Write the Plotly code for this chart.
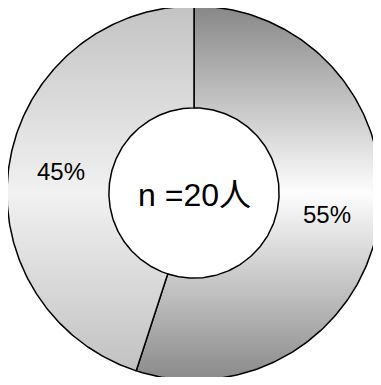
import numpy as np
import plotly.graph_objects as go

labels = ['はい', 'いいえ']
percent = [55, 45]
center_text = 'n =20人'

# vertical gradients (bottom, middle, top)
grad_colors = [
    [[0, '#8a8a8a'], [0.5, '#fdfdfd'], [1, '#878787']],
    [[0, '#bfbfbf'], [0.5, '#f1f1f1'], [1, '#c3c3c3']],
]

R = 1.0
HOLE = 0.455

fig = go.Figure()

start = 90.0
for lab, pct, cs in zip(labels, percent, grad_colors):
    sweep = pct / sum(percent) * 360.0
    a_out = np.radians(np.linspace(start, start - sweep, 200))
    a_in = a_out[::-1]
    xs = np.concatenate([R * np.cos(a_out), HOLE * np.cos(a_in), [R * np.cos(a_out[0])]])
    ys = np.concatenate([R * np.sin(a_out), HOLE * np.sin(a_in), [R * np.sin(a_out[0])]])
    fig.add_trace(go.Scatter(
        x=xs, y=ys,
        mode='lines',
        fill='toself',
        fillgradient=dict(type='vertical', colorscale=cs, start=-R, stop=R),
        line=dict(color='black', width=1.5),
        name=lab,
        hoverinfo='skip',
        showlegend=False,
    ))
    mid = np.radians(start - sweep / 2)
    fig.add_annotation(
        x=0.72 * np.cos(mid), y=0.72 * np.sin(mid),
        text=f'{pct}%', showarrow=False,
        font=dict(size=24, color='black', family='Liberation Sans, Arial'),
    )
    start -= sweep

fig.add_annotation(
    x=0, y=0, yshift=-2, text=center_text, showarrow=False,
    font=dict(size=32, color='black', family='Liberation Sans, Noto Sans CJK JP'),
)

# page body keeps an 8px margin, so the figure is kept inside the window
W, H = 365, 369

ppu = 187.0
cx, cy = 186.0, 185.0
fig.update_layout(
    width=W, height=H,
    margin=dict(l=0, r=0, t=0, b=0),
    paper_bgcolor='white',
    plot_bgcolor='white',
    showlegend=False,
)
fig.update_xaxes(range=[-cx / ppu, (W - cx) / ppu], visible=False, fixedrange=True)
fig.update_yaxes(range=[-(H - cy) / ppu, cy / ppu], visible=False, fixedrange=True)

fig.write_html('out.html')
